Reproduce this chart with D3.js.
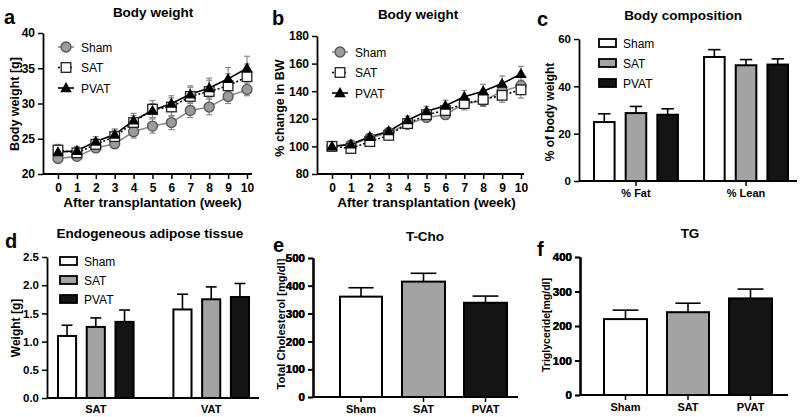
<!DOCTYPE html>
<html><head><meta charset="utf-8">
<script src="https://cdn.jsdelivr.net/npm/d3@7"></script>
<style>body{margin:0;background:#fff}svg{display:block}text{font-family:"Liberation Sans",Arial,sans-serif}</style>
</head><body>
<script>
// ---------- data ----------
const weeks = [0,1,2,3,4,5,6,7,8,9,10];
const groups = ["Sham","SAT","PVAT"];
// panel a: body weight [g]
const bwSham = [22.2,22.5,23.7,24.3,26.0,26.8,27.3,29.0,29.5,31.0,32.0];
const bwShamErr = [0.5,0.5,0.6,0.7,0.9,1.0,1.0,1.0,1.1,1.0,0.9];
const bwSAT = [23.4,23.0,24.2,25.3,27.3,29.2,29.5,31.0,31.7,32.5,33.8];
const bwSATErr = [0.8,0.7,0.8,0.9,1.0,1.2,1.3,1.3,1.6,1.7,1.8];
const bwPVAT = [23.1,23.3,24.6,25.6,27.6,29.0,30.0,31.3,32.2,33.5,35.0];
const bwPVATErr = [0.6,0.6,0.7,0.8,1.0,1.0,1.1,1.2,1.4,1.6,1.7];
// panel b: % change in BW
const pcSham = [100,101,106,110,116,121,123,131,133,140,144];
const pcShamErr = [1,1.5,2,2,2.5,3,3,3,3,4,4];
const pcSAT = [100,98.5,103.5,108,116.5,123,126,131,134,137,141];
const pcSATErr = [1,1.5,2,2.5,3,3.5,4,4.5,5,5,6];
const pcPVAT = [100,101.5,107,111,119,125.5,129.5,136,140,145.5,152.5];
const pcPVATErr = [1,1.5,2,2.5,3,3.5,4,4.5,5,5.5,5.5];
// panel c: body composition
const compCats = ["% Fat","% Lean"];
const compSham = [24.9,52.4], compShamErr = [3.5,3.1];
const compSAT = [28.7,48.9], compSATErr = [2.8,2.4];
const compPVAT = [28.0,49.2], compPVATErr = [2.5,2.4];
// panel d: endogeneous adipose tissue
const adiCats = ["SAT","VAT"];
const adiSham = [1.10,1.57], adiShamErr = [0.19,0.27];
const adiSAT = [1.26,1.75], adiSATErr = [0.16,0.22];
const adiPVAT = [1.35,1.79], adiPVATErr = [0.21,0.24];
// panel e: T-Cho
const tcho = [361,415,339], tchoErr = [32,30,24];
// panel f: TG
const tg = [220,240,280], tgErr = [26,26,27];
// tick values
const aTicks = [20,25,30,35,40];
const bTicks = [80,100,120,140,160,180];
const cTicks = [0,20,40,60];
const dTicks = [0,0.5,1.0,1.5,2.0,2.5];
const eTicks = [0,100,200,300,400,500];
const fTicks = [0,100,200,300,400];

const fills = {Sham:"#ffffff", SAT:"#a3a3a3", PVAT:"#141414"};

const svg = d3.select("body").append("svg").attr("width",800).attr("height",417);

function styleAxis(g, fs){
  g.selectAll("path.domain").attr("stroke","#000").attr("stroke-width",1.8);
  g.selectAll(".tick line").attr("stroke","#000").attr("stroke-width",1.5);
  g.selectAll(".tick text").attr("font-family","Liberation Sans, Arial, sans-serif")
    .attr("font-size",fs||11).attr("font-weight","bold").attr("fill","#000");
}
function label(x,y,txt,opts){
  opts=opts||{};
  const t = svg.append("text").attr("x",x).attr("y",y).text(txt)
    .attr("font-size",opts.size||12).attr("font-weight",opts.weight||"bold")
    .attr("text-anchor",opts.anchor||"middle").attr("fill","#000");
  if(opts.rotate) t.attr("transform",`rotate(-90,${x},${y})`);
  return t;
}

// ---------- line panels ----------
function linePanel(cfg){
  const x = d3.scalePoint().domain(weeks).range([cfg.x0,cfg.x1]);
  const y = d3.scaleLinear().domain(cfg.dom).range([cfg.yb,cfg.yt]);
  const g = svg.append("g");
  const xa = g.append("g").attr("transform",`translate(0,${cfg.yb})`)
    .call(d3.axisBottom(x).tickSize(5).tickSizeOuter(0));
  xa.select("path.domain").attr("d",`M${cfg.ax},0H${cfg.axEnd}`);
  styleAxis(xa,12);
  xa.selectAll(".tick text").attr("dy","0.85em");
  const ya = g.append("g").attr("transform",`translate(${cfg.ax},0)`)
    .call(d3.axisLeft(y).tickValues(cfg.ticks).tickSize(5).tickSizeOuter(0));
  styleAxis(ya,12);
  const series = [
    {name:"Sham", v:cfg.sham, e:cfg.shamE, line:"#8c8c8c", dash:null},
    {name:"SAT", v:cfg.sat, e:cfg.satE, line:"#000", dash:"2,2"},
    {name:"PVAT", v:cfg.pvat, e:cfg.pvatE, line:"#000", dash:null}
  ];
  // error bars
  series.forEach(s=>{
    const eb = g.append("g").attr("stroke","#8a8a8a").attr("stroke-width",1.2);
    weeks.forEach((w,i)=>{
      const cx=x(w);
      eb.append("line").attr("x1",cx).attr("x2",cx).attr("y1",y(s.v[i]-s.e[i])).attr("y2",y(s.v[i]+s.e[i]));
      [s.v[i]-s.e[i], s.v[i]+s.e[i]].forEach(v=>eb.append("line").attr("x1",cx-3).attr("x2",cx+3).attr("y1",y(v)).attr("y2",y(v)));
    });
  });
  const line = d3.line().x((d,i)=>x(weeks[i])).y(d=>y(d));
  series.forEach(s=>{
    g.append("path").datum(s.v).attr("d",line).attr("fill","none")
      .attr("stroke",s.line).attr("stroke-width",1.6).attr("stroke-dasharray",s.dash);
  });
  function marker(sel,name,cx,cy){
    if(name==="Sham") sel.append("circle").attr("cx",cx).attr("cy",cy).attr("r",5).attr("fill","#9b9b9b").attr("stroke","#555").attr("stroke-width",1.3);
    else if(name==="SAT") sel.append("rect").attr("x",cx-4.8).attr("y",cy-4.8).attr("width",9.6).attr("height",9.6).attr("fill","#fff").attr("stroke","#222").attr("stroke-width",1.3);
    else sel.append("path").attr("d",d3.symbol(d3.symbolTriangle,58)()).attr("transform",`translate(${cx},${cy+0.8})`).attr("fill","#000");
  }
  series.forEach(s=>{ weeks.forEach((w,i)=>marker(g,s.name,x(w),y(s.v[i]))); });
  // legend
  series.forEach((s,k)=>{
    const ly = cfg.legY + k*20.5;
    g.append("line").attr("x1",cfg.legX-8).attr("x2",cfg.legX+8).attr("y1",ly).attr("y2",ly)
      .attr("stroke",s.line).attr("stroke-width",1.6).attr("stroke-dasharray",s.dash);
    marker(g,s.name,cfg.legX,ly);
    label(cfg.legX+15,ly+4.5,s.name,{anchor:"start",weight:"normal",size:12});
  });
  label((cfg.x0+cfg.x1)/2,cfg.yb+33,"After transplantation (week)",{size:13.5});
  label(cfg.ylX,cfg.ylY,cfg.ylab,{rotate:true,size:12.5});
}

linePanel({x0:58,x1:247,ax:43,axEnd:252,yb:174,yt:33,dom:[20,40],ticks:aTicks,
  sham:bwSham,shamE:bwShamErr,sat:bwSAT,satE:bwSATErr,pvat:bwPVAT,pvatE:bwPVATErr,
  legX:66,legY:47,ylab:"Body weight [g]",ylX:19,ylY:104});
linePanel({x0:332,x1:521,ax:317,axEnd:524,yb:174,yt:36,dom:[80,180],ticks:bTicks,
  sham:pcSham,shamE:pcShamErr,sat:pcSAT,satE:pcSATErr,pvat:pcPVAT,pvatE:pcPVATErr,
  legX:340,legY:52,ylab:"% change in BW",ylX:284,ylY:108});

// ---------- bar panels ----------
function barPanel(cfg){
  const y = d3.scaleLinear().domain(cfg.dom).range([cfg.yb,cfg.yt]);
  const g = svg.append("g");
  const outer = d3.scaleBand().domain(cfg.cats).range([cfg.bx0,cfg.bx1]).paddingInner(cfg.pIn).paddingOuter(0);
  const inner = d3.scaleBand().domain(cfg.series.map(s=>s.name)).range([0,outer.bandwidth()]).paddingInner(cfg.pBar);
  const xa = g.append("g").attr("transform",`translate(0,${cfg.yb})`)
    .call(d3.axisBottom(outer).tickSize(cfg.xTick?5:0).tickSizeOuter(0));
  xa.select("path.domain").attr("d",`M${cfg.ax},0H${cfg.axEnd}`);
  styleAxis(xa,cfg.xfs||11);
  xa.selectAll(".tick text").attr("dy",cfg.xTick?"0.75em":"1.1em");
  const ya = g.append("g").attr("transform",`translate(${cfg.ax},0)`)
    .call(d3.axisLeft(y).tickValues(cfg.ticks).tickSize(5).tickSizeOuter(0).tickFormat(cfg.fmt||d3.format("d")));
  styleAxis(ya,11.5);
  cfg.series.forEach(s=>{
    cfg.cats.forEach((c,i)=>{
      const bx = outer(c)+inner(s.name), bw = inner.bandwidth(), cx = bx+bw/2;
      const top = y(s.v[i]), et = y(s.v[i]+s.e[i]);
      g.append("line").attr("x1",cx).attr("x2",cx).attr("y1",top).attr("y2",et).attr("stroke","#000").attr("stroke-width",1.6);
      g.append("line").attr("x1",cx-bw*0.3).attr("x2",cx+bw*0.3).attr("y1",et).attr("y2",et).attr("stroke","#000").attr("stroke-width",1.6);
      g.append("rect").attr("x",bx).attr("y",top).attr("width",bw).attr("height",cfg.yb-top)
        .attr("fill",fills[s.name]).attr("stroke","#000").attr("stroke-width",2);
    });
  });
  if(cfg.legX!==undefined){
    cfg.series.forEach((s,k)=>{
      const ly = cfg.legY + k*cfg.legStep;
      g.append("rect").attr("x",cfg.legX).attr("y",ly-4).attr("width",17).attr("height",8)
        .attr("fill",fills[s.name]).attr("stroke","#000").attr("stroke-width",1.8);
      label(cfg.legX+24,ly+4.5,s.name,{anchor:"start",weight:"normal",size:12});
    });
  }
  label(cfg.ylX,cfg.ylY,cfg.ylab,{rotate:true,size:cfg.ylfs||12});
}

barPanel({cats:compCats,series:[{name:"Sham",v:compSham,e:compShamErr},{name:"SAT",v:compSAT,e:compSATErr},{name:"PVAT",v:compPVAT,e:compPVATErr}],
  dom:[0,60],yb:181,yt:39,ax:579,axEnd:797,bx0:594,bx1:788,pIn:0.2375,pBar:0.35,ticks:cTicks,xTick:true,xfs:11,
  legX:599,legY:43,legStep:20,ylab:"% of body weight",ylX:554,ylY:112});

barPanel({cats:adiCats,series:[{name:"Sham",v:adiSham,e:adiShamErr},{name:"SAT",v:adiSAT,e:adiSATErr},{name:"PVAT",v:adiPVAT,e:adiPVATErr}],
  dom:[0,2.5],yb:398,yt:257,ax:47,axEnd:259,bx0:58,bx1:249,pIn:0.345,pBar:0.37,ticks:dTicks,xTick:false,xfs:11,
  fmt:d3.format(".1f"),legX:60,legY:261,legStep:19,ylab:"Weight [g]",ylX:20,ylY:328});

const eCfg = {dom:[0,500],yb:397,yt:258,ax:313,axEnd:518,pIn:0,pBar:0,ticks:eTicks,xTick:true,xfs:11};
barPanel(Object.assign({},eCfg,{cats:["Sham"],series:[{name:"Sham",v:[tcho[0]],e:[tchoErr[0]]}],bx0:340,bx1:382,ylab:"Total Cholesterol [mg/dl]",ylX:285,ylY:324,ylfs:11.2}));
barPanel(Object.assign({},eCfg,{cats:["SAT"],series:[{name:"SAT",v:[tcho[1]],e:[tchoErr[1]]}],bx0:402,bx1:445,ylab:"",ylX:0,ylY:0}));
barPanel(Object.assign({},eCfg,{cats:["PVAT"],series:[{name:"PVAT",v:[tcho[2]],e:[tchoErr[2]]}],bx0:464,bx1:507,ylab:"",ylX:0,ylY:0}));

const fCfg = {dom:[0,400],yb:395,yt:257,ax:580,axEnd:788,pIn:0,pBar:0,ticks:fTicks,xTick:true,xfs:11};
barPanel(Object.assign({},fCfg,{cats:["Sham"],series:[{name:"Sham",v:[tg[0]],e:[tgErr[0]]}],bx0:604,bx1:647,ylab:"Triglyceride[mg/dl]",ylX:550,ylY:325,ylfs:10.5}));
barPanel(Object.assign({},fCfg,{cats:["SAT"],series:[{name:"SAT",v:[tg[1]],e:[tgErr[1]]}],bx0:667,bx1:709,ylab:"",ylX:0,ylY:0}));
barPanel(Object.assign({},fCfg,{cats:["PVAT"],series:[{name:"PVAT",v:[tg[2]],e:[tgErr[2]]}],bx0:729,bx1:772,ylab:"",ylX:0,ylY:0}));

// ---------- titles & panel letters ----------
label(153,17,"Body weight",{size:13.5});
label(418,19,"Body weight",{size:13.5});
label(683,20,"Body composition",{size:13.5});
label(150,238,"Endogeneous adipose tissue",{size:13.5});
label(425,241,"T-Cho",{size:13.5});
label(690,238,"TG",{size:13.5});
[["a",4,24],["b",272,25],["c",537,26],["d",5,248],["e",273,252],["f",537,256]].forEach(p=>label(p[1],p[2],p[0],{anchor:"start",size:20}));
</script>
</body></html>
